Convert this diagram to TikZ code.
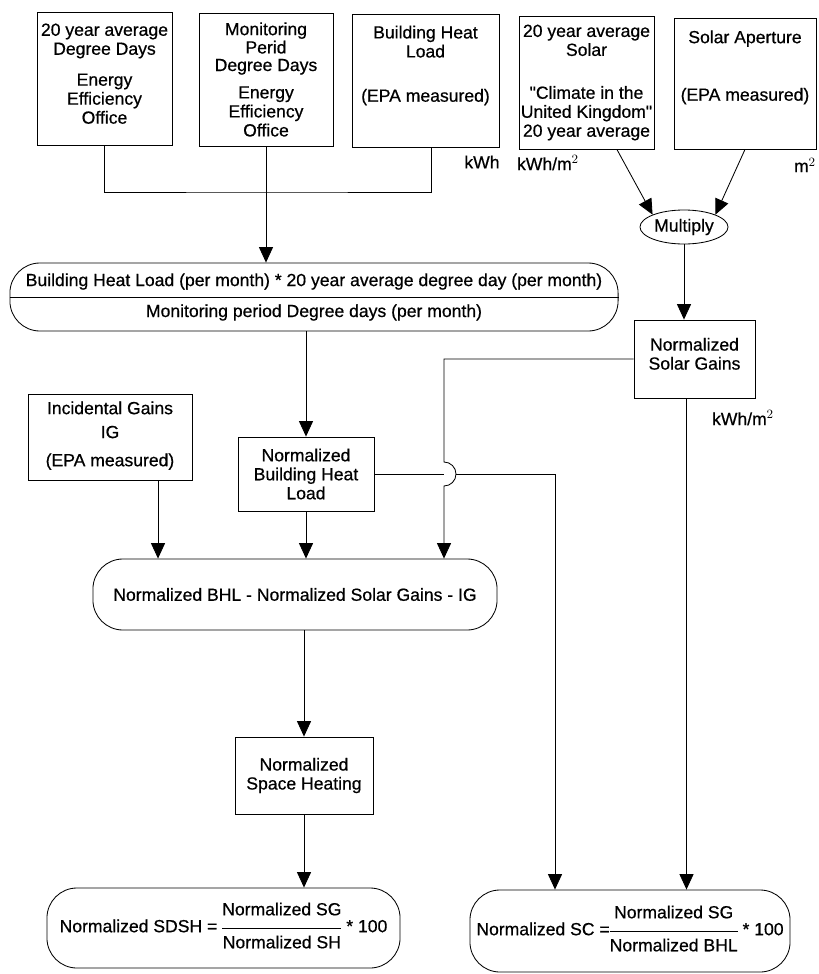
\documentclass[tikz,border=0pt]{standalone}
\usepackage{amsmath}
\usepackage{fontspec}
\setmainfont[FakeBold=0.6]{Liberation Sans}
\usepackage{tikz}
\usetikzlibrary{shapes.geometric, arrows.meta, positioning}

\newcommand{\normfrac}[2]{\begin{tabular}{@{}c@{}}#1\\[5pt]\hline\rule{0pt}{14pt}#2\end{tabular}}

\tikzset{
  srcbox/.style={draw, line width=0.6pt, align=center, inner sep=1pt},
  calcbox/.style={draw, line width=0.6pt, rounded corners=0.75cm, align=center, inner xsep=2pt},
  unitlabel/.style={inner sep=0pt},
  link/.style={line width=0.6pt},
  arr/.style={line width=0.6pt, -{Triangle[length=11pt,width=10pt]}}
}

\begin{document}
\begin{tikzpicture}[x=0.025cm, y=-0.025cm, font=\fontsize{12.5}{13.5}\selectfont]
  \useasboundingbox (0,0) rectangle (818,974);

  %% Source data boxes
  \node[srcbox, minimum width=3.375cm, minimum height=3.325cm] (dd20) at (104.5,78.5)
    {20 year average\\Degree Days\\[8.5pt]Energy\\Efficiency\\Office\\[-6.5pt]\mbox{}};
  \node[srcbox, minimum width=3.35cm, minimum height=3.325cm] (ddmon) at (266,79.5)
    {Monitoring\\[-0.5pt]Perid\\[-1pt]Degree Days\\[6pt]Energy\\Efficiency\\Office};
  \node[srcbox, minimum width=3.675cm, minimum height=3.325cm] (bhl) at (425.5,80.5)
    {Building Heat\\Load\\[18pt](EPA measured)\\[10.4pt]\mbox{}};
  \node[srcbox, minimum width=3.375cm, minimum height=3.325cm] (solar20) at (586.5,82.5)
    {20 year average\\Solar\\[17pt]\textquotedbl Climate in the\\United Kingdom\textquotedbl\\20 year average};
  \node[srcbox, minimum width=3.55cm, minimum height=3.275cm] (aperture) at (745,83.5)
    {Solar Aperture\\[27.4pt](EPA measured)\\[12pt]\mbox{}};

  %% Units
  \node[unitlabel] (kwh) at (482,162) {kWh};
  \node[unitlabel] (kwhsolar) at (548,163) {kWh/m$^2$};
  \node[unitlabel] (msq) at (805,165) {m$^2$};

  %% Calculation steps
  \node[draw, line width=0.6pt, ellipse, inner sep=0pt, minimum width=2.2cm, minimum height=0.85cm] (multiply) at (684,227) {Multiply};
  \node[calcbox, minimum width=15.2cm, minimum height=1.7cm] (bhlform) at (314,297)
    {Building Heat Load (per month) * 20 year average degree day (per month)\\[8.5pt]Monitoring period Degree days (per month)};
  \node[srcbox, minimum width=3.025cm, minimum height=1.95cm] (nsg) at (694.5,359) {Normalized\\Solar Gains\\[-6pt]\mbox{}};
  \node[unitlabel] (kwhnsg) at (743,418) {kWh/m$^2$};
  \node[srcbox, minimum width=4.1cm, minimum height=2.15cm] (ig) at (110,437)
    {Incidental Gains\\[3.5pt]IG\\[6.5pt](EPA measured)\\[-9pt]\mbox{}};
  \node[srcbox, minimum width=3.4cm, minimum height=1.85cm] (nbhl) at (306,474) {Normalized\\Building Heat\\Load};
  \node[calcbox, minimum width=10.1cm, minimum height=1.775cm] (spaceform) at (295,594.5)
    {Normalized BHL - Normalized Solar Gains - IG};
  \node[srcbox, minimum width=3.45cm, minimum height=1.925cm] (nsh) at (304,775.5) {Normalized\\Space Heating};

  %% Results
  \node[calcbox, minimum width=8.825cm, minimum height=2cm] (sdsh) at (223.5,928)
    {Normalized SDSH = \normfrac{Normalized SG}{Normalized SH} * 100};
  \node[calcbox, minimum width=8cm, minimum height=2.05cm] (sc) at (630,931)
    {Normalized SC =\normfrac{Normalized SG}{Normalized BHL} * 100};

  %% Helper points
  \coordinate (hub) at (266,192);
  \coordinate (sgdrop) at (444,359);
  \coordinate (hoptop) at (444,462);
  \coordinate (hopright) at (456,474);
  \coordinate (bhlturn) at (555,474);

  %% Connectors
  \draw[link] (bhlform.west) -- (bhlform.east);
  \draw[link] (dd20.south) |- (hub) -| ([xshift=0.16cm]bhl.south);
  \draw[arr] (ddmon.south) -- (ddmon.south |- bhlform.north);
  \draw[arr] ([xshift=0.76cm]solar20.south) -- (multiply.north west);
  \draw[arr] (aperture.south) -- (multiply.north east);
  \draw[arr] (multiply.south) -- (multiply.south |- nsg.north);
  \draw[arr] (nbhl.north |- bhlform.south) -- (nbhl.north);
  \draw[arr] (nsg.west) -- (sgdrop) -- (hoptop) arc[start angle=90, end angle=-90, radius=0.3cm] -- (sgdrop |- spaceform.north);
  \draw[link] (nbhl.east) -- (nbhl.east -| sgdrop);
  \draw[arr] (hopright) -- (bhlturn) -- (bhlturn |- sc.north);
  \draw[arr] ([xshift=-0.2cm]nsg.south) -- ([xshift=-0.2cm]nsg.south |- sc.north);
  \draw[arr] ([xshift=1.2cm]ig.south) -- ([xshift=1.2cm]ig.south |- spaceform.north);
  \draw[arr] (nbhl.south) -- (nbhl.south |- spaceform.north);
  \draw[arr] (nsh.north |- spaceform.south) -- (nsh.north);
  \draw[arr] (nsh.south) -- (nsh.south |- sdsh.north);
\end{tikzpicture}
\end{document}
